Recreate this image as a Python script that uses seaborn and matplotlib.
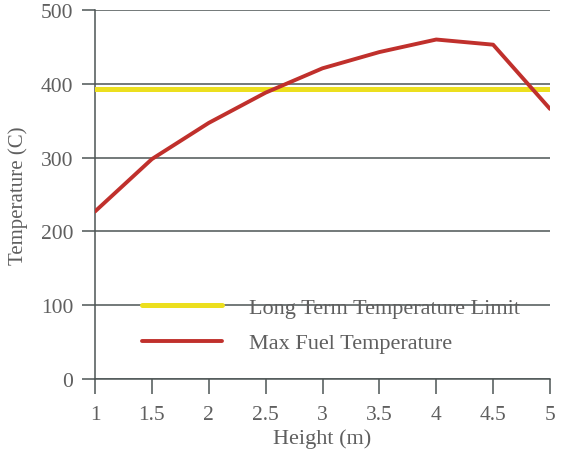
import matplotlib
matplotlib.use("Agg")
import matplotlib.pyplot as plt
import seaborn as sns
import pandas as pd

height = [1, 1.5, 2, 2.5, 3, 3.5, 4, 4.5, 5]
max_fuel_temp = [227, 298, 347, 388, 421, 443, 460, 453, 366]
limit_temp = [393] * len(height)
x_ticks = [1, 1.5, 2, 2.5, 3, 3.5, 4, 4.5, 5]
x_tick_labels = ["1", "1.5", "2", "2.5", "3", "3.5", "4", "4.5", "5"]
y_ticks = [0, 100, 200, 300, 400, 500]

LIMIT = "Long Term Temperature Limit"
FUEL = "Max Fuel Temperature"

sns.set_style("white")
plt.rcParams['font.family'] = ['Liberation Serif', 'DejaVu Serif']

df = pd.DataFrame({
    "Height": height * 2,
    "Temp": limit_temp + max_fuel_temp,
    "Series": [LIMIT] * len(height) + [FUEL] * len(height),
})

fig = plt.figure(figsize=(5.62, 4.56), dpi=100)
ax = fig.add_axes([95/562, 76/456, 455/562, 369/456])

grid_c = "#4d5555"
text_c = "#5f5f5f"
widths = {LIMIT: 3.6, FUEL: 2.8}

sns.lineplot(data=df, x="Height", y="Temp", hue="Series",
             palette={LIMIT: "#ecdf1e", FUEL: "#c0302c"},
             ax=ax, zorder=3, legend=True)
data_lines = list(ax.lines)
for ln, name in zip(data_lines, [LIMIT, FUEL]):
    ln.set_linewidth(widths[name])

ax.set_yticks(y_ticks)
ax.yaxis.grid(True, color=grid_c, lw=1.1, zorder=1)
ax.set_axisbelow(True)

ax.set_xlim(1, 5)
ax.set_ylim(0, 500)
ax.set_xticks(x_ticks)
ax.set_xticklabels(x_tick_labels)
ax.tick_params(axis='y', left=True, direction='out', length=9.5, width=1.1, color=grid_c,
               labelsize=15.5, labelcolor=text_c, pad=6)
ax.tick_params(axis='x', bottom=True, direction='out', length=10.5, width=1.1, color=grid_c,
               labelsize=15.5, labelcolor=text_c, pad=8.5)
for s in ["top", "right"]:
    ax.spines[s].set_visible(False)
for s in ["left", "bottom"]:
    ax.spines[s].set_color(grid_c)
    ax.spines[s].set_linewidth(1.1)
ax.set_xlabel("Height (m)", fontsize=16, color=text_c, labelpad=3)
ax.set_ylabel("Temperature (C)", fontsize=15, color=text_c, labelpad=9)

handles, labels = ax.get_legend_handles_labels()
for h in handles:
    h.set_linewidth(widths.get(h.get_label(), 2.8))
leg = ax.legend(handles, labels, loc="lower left", bbox_to_anchor=(0.06, 0.015),
                frameon=False, fontsize=16, handlelength=3.6, handletextpad=1.2,
                labelspacing=0.69, labelcolor=text_c)
leg.set_zorder(4)

fig.savefig("out.png", dpi=100)
